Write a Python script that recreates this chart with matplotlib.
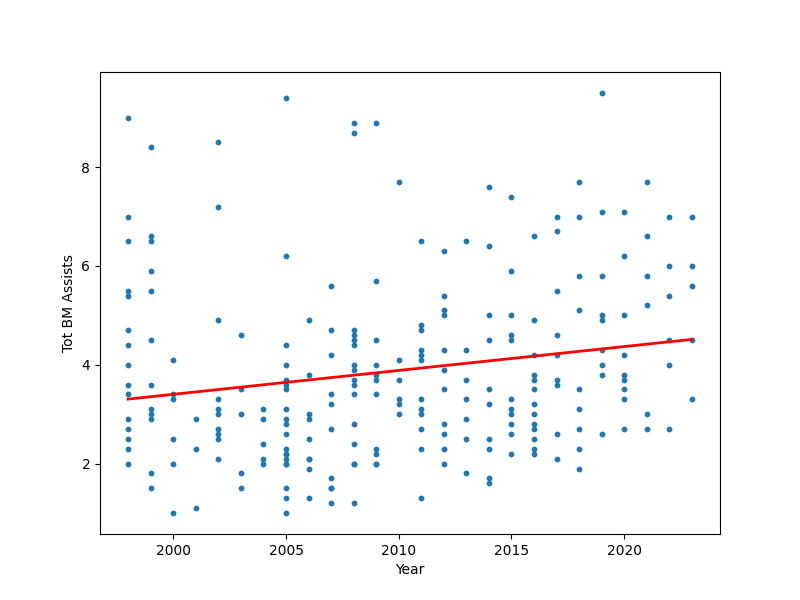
import matplotlib
matplotlib.use('Agg')
import matplotlib.pyplot as plt
import numpy as np

# Data, read per year column (a few repeated values stand for overlapping dots)
assists_by_year = {
    1998: [9.0, 7.0, 6.5, 5.5, 5.4, 4.7, 4.4, 4.0, 3.6, 3.4, 2.9, 2.7, 2.5, 2.3, 2.0],
    1999: [8.4, 6.6, 6.5, 5.9, 5.5, 4.5, 3.6, 3.1, 3.0, 2.9, 1.8, 1.5],
    2000: [4.1, 3.4, 3.3, 2.5, 2.0, 1.0],
    2001: [2.9, 2.3, 1.1],
    2002: [8.5, 7.2, 4.9, 3.3, 3.1, 3.0, 2.7, 2.6, 2.5, 2.1],
    2003: [4.6, 3.5, 3.0, 1.8, 1.5],
    2004: [3.1, 2.9, 2.4, 2.1, 2.0],
    2005: [9.4, 6.2, 4.4, 4.0, 3.7, 3.6, 3.5, 3.1, 2.9, 2.8, 2.6, 2.3, 2.2, 2.2,
           2.1, 2.0, 2.0, 1.5, 1.3, 1.0],
    2006: [4.9, 3.8, 3.0, 2.9, 2.5, 2.1, 2.1, 1.9, 1.3],
    2007: [5.6, 4.7, 4.2, 3.4, 3.2, 2.7, 1.7, 1.5, 1.5, 1.2],
    2008: [8.9, 8.7, 4.7, 4.6, 4.5, 4.4, 4.0, 3.9, 3.7, 3.6, 3.4, 2.8, 2.4, 2.0, 2.0, 1.2],
    2009: [8.9, 5.7, 4.5, 4.0, 3.8, 3.7, 3.4, 2.3, 2.2, 2.0, 2.0],
    2010: [7.7, 4.1, 3.7, 3.3, 3.2, 3.0],
    2011: [6.5, 4.8, 4.7, 4.3, 4.2, 4.1, 3.3, 3.1, 3.0, 2.7, 2.3, 1.3],
    2012: [6.3, 5.4, 5.1, 5.0, 4.3, 3.9, 3.5, 2.8, 2.6, 2.3, 2.0],
    2013: [6.5, 4.3, 3.7, 3.3, 2.9, 2.5, 1.8],
    2014: [7.6, 6.4, 5.0, 4.5, 3.5, 3.2, 2.5, 2.3, 1.7, 1.6],
    2015: [7.4, 5.9, 5.0, 4.6, 4.5, 3.3, 3.1, 3.0, 2.8, 2.6, 2.2],
    2016: [6.6, 4.9, 4.2, 3.8, 3.7, 3.5, 3.2, 3.0, 2.8, 2.7, 2.5, 2.3, 2.2],
    2017: [7.0, 6.7, 5.5, 4.6, 4.2, 3.7, 3.6, 2.6, 2.1],
    2018: [7.7, 7.0, 5.8, 5.1, 3.5, 3.1, 2.7, 2.3, 1.9],
    2019: [9.5, 7.1, 5.8, 5.0, 4.9, 4.3, 4.0, 3.8, 2.6],
    2020: [7.1, 6.2, 5.0, 4.2, 3.8, 3.7, 3.5, 3.3, 2.7],
    2021: [7.7, 6.6, 5.8, 5.2, 3.0, 2.7],
    2022: [7.0, 6.0, 5.4, 4.5, 4.0, 2.7],
    2023: [7.0, 6.0, 5.6, 4.5, 3.3],
}

years = []
assists = []
for yr, vals in assists_by_year.items():
    years += [yr] * len(vals)
    assists += vals
years = np.array(years)
assists = np.array(assists)

# linear fit
slope, intercept = np.polyfit(years, assists, 1)
fit_x = np.array([years.min(), years.max()])
fit_y = slope * fit_x + intercept

fig, ax = plt.subplots(figsize=(8, 6), dpi=100)
ax.scatter(years, assists, s=10)
ax.plot(fit_x, fit_y, color='red', linewidth=2)
ax.set_xlabel('Year')
ax.set_ylabel('Tot BM Assists')

plt.savefig('out.png')
